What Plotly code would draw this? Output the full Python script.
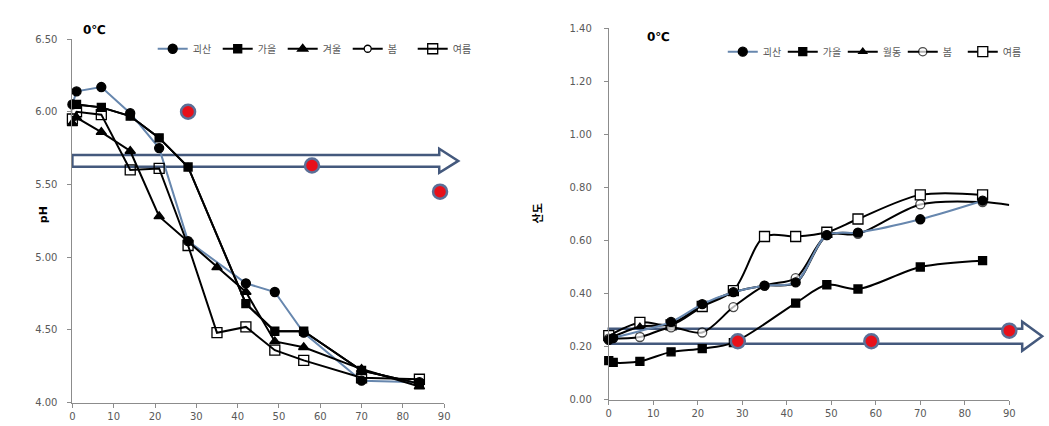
import plotly.graph_objects as go

# ---------------- data: left chart (pH) ----------------
L_goesan_x = [0, 1, 7, 14, 21, 28, 42, 49, 56, 70, 84]
L_goesan_y = [6.05, 6.14, 6.17, 5.99, 5.75, 5.11, 4.82, 4.76, 4.48, 4.15, 4.14]
L_fall_x = [1, 7, 14, 21, 28, 42, 49, 56, 70, 84]
L_fall_y = [6.05, 6.03, 5.97, 5.82, 5.62, 4.68, 4.49, 4.49, 4.22, 4.13]
L_winter_x = [0, 1, 7, 14, 21, 35, 42, 49, 56, 70, 84]
L_winter_y = [5.92, 5.96, 5.86, 5.73, 5.28, 4.93, 4.76, 4.42, 4.38, 4.23, 4.11]
L_spring_x = [1, 7, 14, 21, 28, 42, 49, 56, 70, 84]
L_spring_y = [6.05, 6.03, 5.97, 5.82, 5.62, 4.68, 4.49, 4.49, 4.22, 4.13]
L_summer_x = [0, 1, 7, 14, 21, 28, 35, 42, 49, 56, 70, 84]
L_summer_y = [5.95, 6.00, 5.98, 5.60, 5.61, 5.08, 4.48, 4.52, 4.36, 4.29, 4.17, 4.16]
L_names = ["괴산", "가을", "겨울", "봄", "여름"]
L_dots_x = [28, 58, 89]
L_dots_y = [6.00, 5.63, 5.45]

# ---------------- data: right chart (acidity) ----------------
R_goesan_x = [0, 1, 14, 21, 28, 35, 42, 49, 56, 70, 84]
R_goesan_y = [0.225, 0.232, 0.293, 0.360, 0.405, 0.430, 0.442, 0.620, 0.630, 0.680, 0.750]
R_fall_x = [0, 1, 7, 14, 21, 28, 42, 49, 56, 70, 84]
R_fall_y = [0.147, 0.140, 0.144, 0.180, 0.192, 0.215, 0.364, 0.433, 0.417, 0.500, 0.524]
R_wint_x = [0, 7, 14, 21, 28, 35, 42, 49, 56]
R_wint_y = [0.230, 0.275, 0.285, 0.355, 0.405, 0.430, 0.440, 0.618, 0.625]
R_spring_x = [0, 7, 14, 21, 28, 35, 42, 49, 56, 70, 84, 90]
R_spring_y = [0.230, 0.236, 0.272, 0.253, 0.349, 0.429, 0.458, 0.620, 0.625, 0.736, 0.745, 0.734]
R_summer_x = [0, 7, 14, 21, 28, 35, 42, 49, 56, 70, 84]
R_summer_y = [0.241, 0.291, 0.282, 0.351, 0.411, 0.615, 0.615, 0.631, 0.681, 0.772, 0.772]
R_names = ["괴산", "가을", "월동", "봄", "여름"]
R_dots_x = [29, 59, 90]
R_dots_y = [0.22, 0.22, 0.26]

L_yticks = [4.0, 4.5, 5.0, 5.5, 6.0, 6.5]
R_yticks = [0.0, 0.2, 0.4, 0.6, 0.8, 1.0, 1.2, 1.4]
X_ticks = [0, 10, 20, 30, 40, 50, 60, 70, 80, 90]

# ---------------- styling ----------------
W, H = 1049, 426
BLUE = "#6787AE"
ARROW = "#44597D"
TICKC = "#595959"
AXC = "#8C8C8C"
KFONT = "Noto Sans CJK KR, DejaVu Sans, sans-serif"
TFONT = "DejaVu Sans, Verdana, sans-serif"


def px_x(p):
    return p / W


def px_y(p):
    return 1 - p / H


L_dom_x = [px_x(70), px_x(445)]
L_dom_y = [px_y(408), px_y(34)]
R_dom_x = [px_x(611), px_x(1015)]
R_dom_y = [px_y(405), px_y(23)]
L_rng_y = [4.0, 6.5]
R_rng_y = [0.0, 1.4]
RNG_X = [0, 90]

fig = go.Figure()


def add(x, y, name, sym, size, color, xa, ya, legend, rank, shape="linear",
        fill="black", sizes=None):
    fig.add_trace(go.Scatter(
        x=x, y=y, name=name, mode="lines+markers", xaxis=xa, yaxis=ya, legend=legend,
        legendrank=rank,
        line=dict(color=color, width=2, shape=shape, smoothing=0.9),
        marker=dict(symbol=sym, size=sizes if sizes else size, color=fill,
                    line=dict(color="black", width=1.3)),
        cliponaxis=False,
    ))


# left chart
add(L_spring_x, L_spring_y, L_names[3], "circle", 7, "black", "x", "y", "legend", 4,
    fill="white")
add(L_goesan_x, L_goesan_y, L_names[0], "circle", 9, BLUE, "x", "y", "legend", 1)
add(L_fall_x, L_fall_y, L_names[1], "square", 8, "black", "x", "y", "legend", 2)
add(L_winter_x, L_winter_y, L_names[2], "triangle-up", 9, "black", "x", "y", "legend", 3)
add(L_summer_x, L_summer_y, L_names[4], "square", 10, "black", "x", "y", "legend", 5,
    fill="rgba(255,255,255,0)")

# right chart (smoothed)
add(R_summer_x, R_summer_y, R_names[4], "square", 10, "black", "x2", "y2", "legend2", 5,
    shape="spline", fill="white")
add(R_spring_x, R_spring_y, R_names[3], "circle", 9, "black", "x2", "y2", "legend2", 4,
    shape="spline", fill="white", sizes=[9] * (len(R_spring_x) - 1) + [0])
add(R_wint_x, R_wint_y, R_names[2], "triangle-up", 7, "black", "x2", "y2", "legend2", 3,
    shape="spline")
add(R_fall_x, R_fall_y, R_names[1], "square", 8, "black", "x2", "y2", "legend2", 2,
    shape="spline")
add(R_goesan_x, R_goesan_y, R_names[0], "circle", 9, BLUE, "x2", "y2", "legend2", 1,
    shape="spline")

# red highlight dots
for xs, ys, xa, ya in [(L_dots_x, L_dots_y, "x", "y"), (R_dots_x, R_dots_y, "x2", "y2")]:
    fig.add_trace(go.Scatter(
        x=xs, y=ys, mode="markers", xaxis=xa, yaxis=ya, showlegend=False, cliponaxis=False,
        marker=dict(symbol="circle", size=14, color="#E8101A",
                    line=dict(color="#5B6F97", width=2.5)),
    ))


def to_paper(x, y, dom_x, dom_y, rng_y):
    px = dom_x[0] + (x - RNG_X[0]) / (RNG_X[1] - RNG_X[0]) * (dom_x[1] - dom_x[0])
    py = dom_y[0] + (y - rng_y[0]) / (rng_y[1] - rng_y[0]) * (dom_y[1] - dom_y[0])
    return px, py


def arrow_path(x0, x_head, x_tip, yb0, yb1, yh0, yh1, dom_x, dom_y, rng_y):
    ym = (yb0 + yb1) / 2
    pts = [(x0, yb0), (x_head, yb0), (x_head, yh0), (x_tip, ym), (x_head, yh1),
           (x_head, yb1), (x0, yb1)]
    pp = [to_paper(a, b, dom_x, dom_y, rng_y) for a, b in pts]
    return "M " + " L ".join(f"{a:.5f},{b:.5f}" for a, b in pp) + " Z"


shapes = [
    dict(type="path", xref="paper", yref="paper",
         path=arrow_path(0, 88.8, 93.4, 5.621, 5.703, 5.580, 5.745, L_dom_x, L_dom_y, L_rng_y),
         line=dict(color=ARROW, width=2.5), fillcolor="rgba(0,0,0,0)", layer="below"),
    dict(type="path", xref="paper", yref="paper",
         path=arrow_path(0, 92.9, 97.4, 0.211, 0.267, 0.184, 0.294, R_dom_x, R_dom_y, R_rng_y),
         line=dict(color=ARROW, width=2.5), fillcolor="rgba(0,0,0,0)", layer="below"),
]

axis_common = dict(showgrid=False, zeroline=False, showline=True, linecolor=AXC, linewidth=1,
                   ticks="outside", ticklen=4, tickcolor=AXC,
                   tickfont=dict(family=TFONT, size=10, color=TICKC))

fig.update_layout(
    width=W, height=H, margin=dict(l=0, r=0, t=0, b=0),
    paper_bgcolor="white", plot_bgcolor="white",
    showlegend=True,
    xaxis=dict(domain=L_dom_x, range=RNG_X, tickvals=X_ticks, anchor="y", **axis_common),
    yaxis=dict(domain=L_dom_y, range=L_rng_y, tickvals=L_yticks, tickformat=".2f",
               anchor="x", ticklabelstandoff=8, **axis_common),
    xaxis2=dict(domain=R_dom_x, range=RNG_X, tickvals=X_ticks, anchor="y2", **axis_common),
    yaxis2=dict(domain=R_dom_y, range=R_rng_y, tickvals=R_yticks, tickformat=".2f",
                anchor="x2", ticklabelstandoff=10, **axis_common),
    legend=dict(orientation="h", x=px_x(151), y=px_y(44), xanchor="left", yanchor="middle",
                font=dict(family=KFONT, size=10, color=TICKC), itemwidth=30,
                entrywidth=20, bgcolor="rgba(0,0,0,0)"),
    legend2=dict(orientation="h", x=px_x(726), y=px_y(47), xanchor="left", yanchor="middle",
                 font=dict(family=KFONT, size=10, color=TICKC), itemwidth=30,
                 entrywidth=15, bgcolor="rgba(0,0,0,0)"),
    shapes=shapes,
    annotations=[
        dict(text="<b>0℃</b>", x=px_x(79), y=px_y(25), xref="paper", yref="paper",
             xanchor="left", yanchor="middle", showarrow=False,
             font=dict(family=TFONT, size=12, color="black")),
        dict(text="<b>0℃</b>", x=px_x(648), y=px_y(32), xref="paper", yref="paper",
             xanchor="left", yanchor="middle", showarrow=False,
             font=dict(family=TFONT, size=12, color="black")),
        dict(text="<b>pH</b>", x=px_x(33), y=px_y(215), xref="paper", yref="paper",
             textangle=-90, showarrow=False, font=dict(family=TFONT, size=11, color="black")),
        dict(text="<b>산도</b>", x=px_x(539), y=px_y(213), xref="paper", yref="paper",
             textangle=-90, showarrow=False, font=dict(family=KFONT, size=11, color="black")),
    ],
)

POST = ("document.body.style.margin='0px';document.body.style.overflow='hidden';"
        "var d=document.getElementById('{plot_id}');d.style.position='absolute';"
        "d.style.left='0px';d.style.top='0px';")
fig.write_html("out.html", post_script=POST, config={"displayModeBar": False})
